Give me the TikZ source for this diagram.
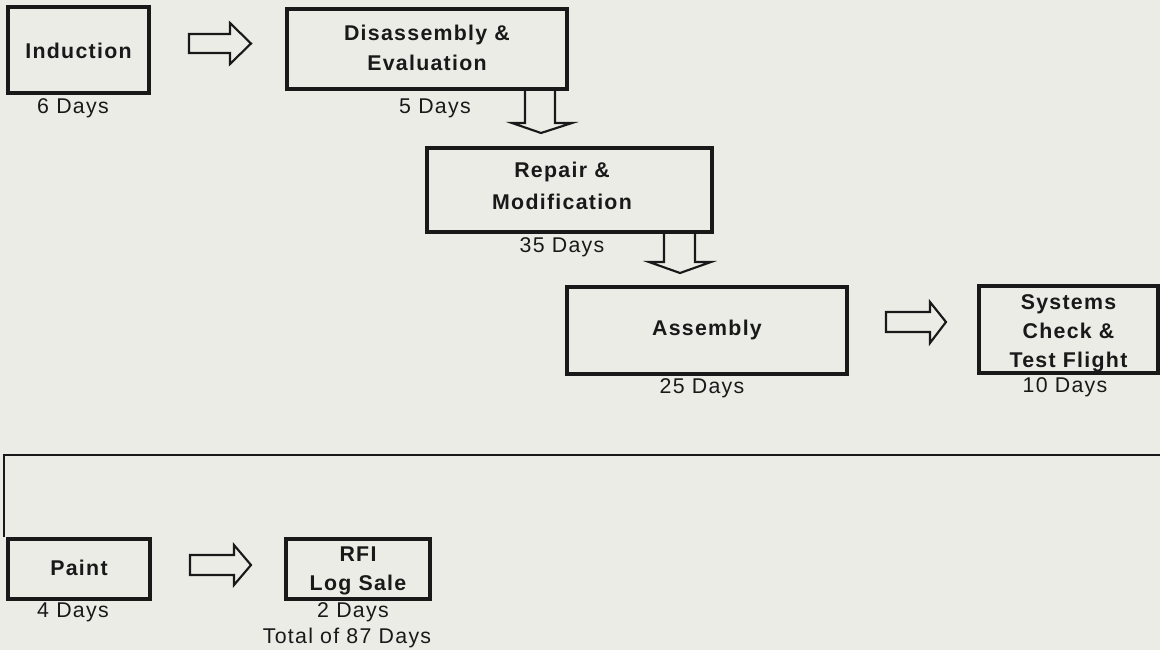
\documentclass[tikz,border=0pt]{standalone}
\usepackage{fontspec}
\setmainfont[LetterSpace=6]{Liberation Sans}
\usepackage{tikz}

\definecolor{paper}{RGB}{236,236,231}
\definecolor{ink}{RGB}{25,25,25}

\tikzset{
  stagebox/.style={draw=ink, line width=2.4pt, fill=none, inner sep=0pt, align=center,
    font=\fontsize{16}{21.5}\selectfont\bfseries, text=ink},
  daystext/.style={inner sep=0pt, font=\fontsize{16}{21.5}\selectfont, text=ink},
  blockarrow/.style={draw=ink, line width=1.6pt, line join=miter},
}

\begin{document}
\begin{tikzpicture}[x=0.75pt,y=0.75pt,yscale=-1,xscale=1]
%set diagram area: 1160 x 650
\fill[paper] (0,0) rectangle (1160,650);
\useasboundingbox (0,0) rectangle (1160,650);

%Shape: Boxes
\node [stagebox, minimum width=141*0.75pt, minimum height=86*0.75pt] (induct) at (78.5,50) {};
\node [stagebox, minimum width=280*0.75pt, minimum height=80*0.75pt] (disas) at (427,49) {};
\node [stagebox, minimum width=285*0.75pt, minimum height=84*0.75pt] (repair) at (569.5,190) {};
\node [stagebox, minimum width=280*0.75pt, minimum height=87*0.75pt] (assem) at (707,330.5) {};
\node [stagebox, minimum width=179*0.75pt, minimum height=87*0.75pt] (syscheck) at (1068.5,329.5) {};
\node [stagebox, minimum width=142*0.75pt, minimum height=60*0.75pt] (paint) at (79,569) {};
\node [stagebox, minimum width=144*0.75pt, minimum height=60*0.75pt] (rfi) at (358,569) {};

% Box Text
\node [stagebox, draw=none] (inducttxt) at (78.5,51) {Induction};
\node [stagebox, draw=none, font=\fontsize{16}{23}\selectfont\bfseries] (disastxt) at (427,48) {Disassembly \&\\Evaluation};
\node [stagebox, draw=none, font=\fontsize{16}{24}\selectfont\bfseries] (repairtxt) at (562,186) {Repair \&\\Modification};
\node [stagebox, draw=none] (assemtxt) at (707,330) {Assembly};
\node [stagebox, draw=none, text depth=0pt] (syschecktxt) at (1068.5,331) {Systems\\Check \&\\Test Flight};
\node [stagebox, draw=none] (painttxt) at (79,568) {Paint};
\node [stagebox, draw=none] (rfitxt) at (358,571) {RFI\\Log Sale};

% Text Node
\node [daystext] (inductdays) at (73,108) {6 Days};
\node [daystext] (disasdays) at (435,108) {5 Days};
\node [daystext] (repairdays) at (562,247) {35 Days};
\node [daystext] (assemdays) at (702,388) {25 Days};
\node [daystext] (syscheckdays) at (1065,387) {10 Days};
\node [daystext] (paintdays) at (73,612) {4 Days};
\node [daystext] (rfidays) at (353,612) {2 Days};
\node [daystext] (totaldays) at (347,638) {Total of 87 Days};

%Shape: Right Arrow
\draw [blockarrow] (189,34) -- (230,34) -- (230,23) -- (251,43.5) -- (230,64) -- (230,53) -- (189,53) -- cycle ;
%Shape: Right Arrow
\draw [blockarrow] (886,312) -- (930,312) -- (930,302) -- (946,322) -- (930,343) -- (930,332) -- (886,332) -- cycle ;
%Shape: Right Arrow
\draw [blockarrow] (190,555) -- (234,555) -- (234,545) -- (251,565) -- (234,585) -- (234,575) -- (190,575) -- cycle ;
%Shape: Down Arrow
\draw [blockarrow] (525,89) -- (525,123) -- (512,123) -- (541,133) -- (572,123) -- (555,123) -- (555,89) ;
%Shape: Down Arrow
\draw [blockarrow] (664,232) -- (664,262) -- (649,262) -- (680,273) -- (711,262) -- (695,262) -- (695,232) ;

%Shape: Return Line
\coordinate (lineend) at (1160,455);
\draw [draw=ink, line width=1.5pt] ([xshift=-2pt]paint.north west) |- (lineend) ;

\end{tikzpicture}
\end{document}
